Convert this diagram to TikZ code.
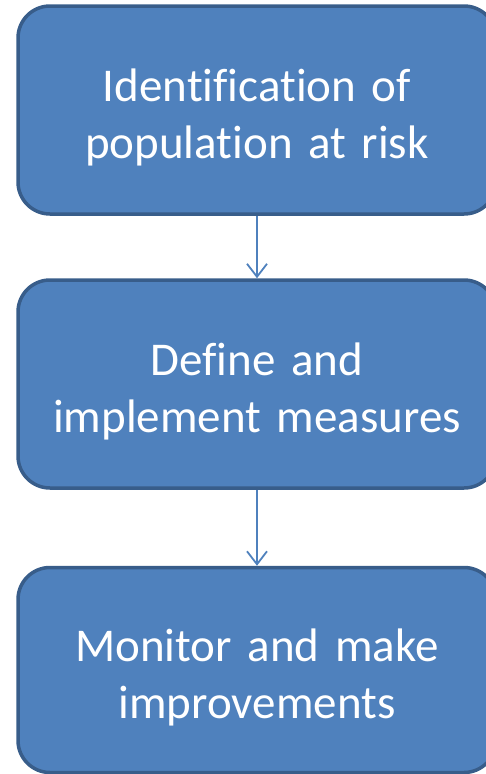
\documentclass[tikz,border=0pt]{standalone}
\usepackage{fontspec}
\setmainfont{Carlito}[Ligatures=NoCommon]
\usetikzlibrary{arrows.meta}
\definecolor{boxfill}{HTML}{4F81BD}
\definecolor{boxline}{HTML}{385D8A}
\newcommand{\topstrut}{\rule{0pt}{47pt}}
\tikzset{
  stagebox/.style={draw=boxline, line width=3.5pt, fill=boxfill, rounded corners=32pt,
    minimum width=478pt, text width=470pt, align=center, text=white,
    font=\fontsize{47}{57}\selectfont},
  flowarrow/.style={draw=boxfill, line width=1.8pt, -{Straight Barb[length=13pt,width=20pt,line width=1.8pt]}}
}
\begin{document}
\begin{tikzpicture}[x=1pt,y=-1pt]
\useasboundingbox (0,0) rectangle (486,774);
\clip (0,0) rectangle (486,774);
\node[stagebox, minimum height=208pt] (a) at (257,110) {\topstrut Identification of\\population at risk};
\node[stagebox, minimum height=208pt] (b) at (257,384) {\topstrut Define and\\implement measures};
\node[stagebox, minimum height=205pt] (c) at (257,670) {\topstrut Monitor and make\\improvements};
\draw[flowarrow] (a.south) -- (b.north);
\draw[flowarrow] (b.south) -- (c.north);
\end{tikzpicture}
\end{document}
